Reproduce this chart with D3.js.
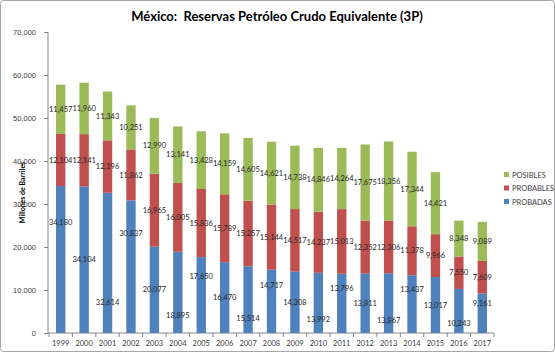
<!DOCTYPE html>
<html>
<head>
<meta charset="utf-8">
<script src="https://cdn.jsdelivr.net/npm/d3@7"></script>
<style>
  html, body { margin: 0; padding: 0; background: #fff; }
  svg { display: block; font-family: Lato, "Open Sans", sans-serif; }
</style>
</head>
<body>
<div id="chart"></div>
<script>
const years = ["1999","2000","2001","2002","2003","2004","2005","2006","2007","2008","2009","2010","2011","2012","2013","2014","2015","2016","2017"];
const probadas = [34180,34104,32614,30837,20077,18895,17650,16470,15514,14717,14308,13992,13796,13811,13867,13437,13017,10243,9161];
const probables = [12104,12141,12196,11862,16965,16005,15836,15789,15257,15144,14517,14237,15013,12352,12306,11378,9966,7550,7609];
const posibles = [11457,11960,11343,10251,12990,13141,13428,14159,14605,14621,14738,14846,14264,17675,18356,17344,14421,8348,9089];
const seriesNames = ["PROBADAS", "PROBABLES", "POSIBLES"];
const yTicks = [0,10000,20000,30000,40000,50000,60000,70000];

(() => {
    const width = 555, height = 353;
    const margin = { top: 32, right: 62, bottom: 20, left: 49 };
    const colors = { PROBADAS: "#4F81BD", PROBABLES: "#C0504D", POSIBLES: "#9BBB59" };

    const rows = years.map((y, i) => ({ year: y, PROBADAS: probadas[i], PROBABLES: probables[i], POSIBLES: posibles[i] }));
    const stacked = d3.stack().keys(seriesNames)(rows);

    const svg = d3.select("#chart").append("svg")
        .attr("width", width)
        .attr("height", height);

    // chart border
    svg.append("rect")
        .attr("x", 0.5).attr("y", 0.5)
        .attr("width", width - 1).attr("height", height - 2)
        .attr("rx", 3)
        .attr("fill", "#fff")
        .attr("stroke", "#a6a6a6");

    const x = d3.scaleBand()
        .domain(years)
        .range([margin.left, 494])
        .paddingInner(0.6)
        .paddingOuter(0.3);

    const y = d3.scaleLinear()
        .domain([0, 70000])
        .range([333, margin.top]);

    // y axis
    const yAxis = svg.append("g")
        .attr("transform", `translate(${margin.left - 1},0)`)
        .call(d3.axisLeft(y).tickValues(yTicks).tickFormat(d3.format(",")).tickSize(4).tickPadding(8));
    yAxis.select(".domain").attr("stroke", "#868686").attr("d", `M0,${y(70000)}V${y(0)}`);
    yAxis.selectAll(".tick line").attr("stroke", "#868686");
    yAxis.selectAll("text").attr("fill", "#404040").style("font-size", "7.5px");

    // x axis, ticks sit between categories
    const xg = svg.append("g").attr("transform", `translate(0,${y(0)})`);
    xg.append("line")
        .attr("x1", margin.left - 1).attr("x2", 494)
        .attr("stroke", "#868686");
    const step = x.step();
    const x0 = x(years[0]) - step * x.paddingInner() / 2;
    xg.selectAll(".xt")
        .data(d3.range(years.length + 1))
        .enter().append("line")
        .attr("x1", i => x0 + i * step)
        .attr("x2", i => x0 + i * step)
        .attr("y1", 0).attr("y2", 4)
        .attr("stroke", "#868686");
    xg.selectAll(".xl")
        .data(years)
        .enter().append("text")
        .attr("x", d => x(d) + x.bandwidth() / 2)
        .attr("y", 13)
        .attr("text-anchor", "middle")
        .attr("fill", "#404040")
        .style("font-size", "7.5px")
        .text(d => d);

    // bars
    const layer = svg.selectAll(".layer")
        .data(stacked)
        .enter().append("g")
        .attr("class", "layer")
        .attr("fill", d => colors[d.key]);

    layer.selectAll("rect")
        .data(d => d)
        .enter().append("rect")
        .attr("x", d => x(d.data.year))
        .attr("y", d => y(d[1]))
        .attr("width", x.bandwidth())
        .attr("height", d => y(d[0]) - y(d[1]));

    // data labels; the bottom series is staggered so neighbours don't collide
    const stagger = [-0.25, 0, 0.28];
    layer.selectAll("text")
        .data(d => d.map((v, i) => ({ v, i, key: d.key })))
        .enter().append("text")
        .attr("x", d => x(d.v.data.year) + x.bandwidth() / 2)
        .attr("y", d => {
            const top = y(d.v[1]), bot = y(d.v[0]);
            const shift = d.key === "PROBADAS" ? stagger[d.i % 3] * (bot - top) : 0;
            return (top + bot) / 2 + shift;
        })
        .attr("dy", "0.35em")
        .attr("text-anchor", "middle")
        .attr("fill", "#262626")
        .style("font-size", "7.5px")
        .text(d => d3.format(",")(d.v[1] - d.v[0]));

    // title
    svg.append("text")
        .attr("x", 277)
        .attr("y", 21)
        .attr("text-anchor", "middle")
        .attr("fill", "#000")
        .style("font-size", "13px")
        .style("font-weight", "bold")
        .style("white-space", "pre")
        .text("México:  Reservas Petróleo Crudo Equivalente (3P)");

    // y title
    svg.append("text")
        .attr("transform", `translate(25,${(y(0) + y(70000)) / 2 + 10}) rotate(-90)`)
        .attr("text-anchor", "middle")
        .attr("fill", "#000")
        .style("font-size", "7px")
        .style("font-weight", "bold")
        .text("Millones de Barriles");

    // legend
    const legend = svg.append("g").attr("transform", "translate(504,172)");
    seriesNames.slice().reverse().forEach((name, i) => {
        const g = legend.append("g").attr("transform", `translate(0,${i * 13.5})`);
        g.append("rect").attr("x", 0).attr("y", 0).attr("width", 5).attr("height", 5).attr("fill", colors[name]);
        g.append("text").attr("x", 8).attr("y", 5.5).attr("fill", "#404040").style("font-size", "7.5px").text(name);
    });
})();
</script>
</body>
</html>
